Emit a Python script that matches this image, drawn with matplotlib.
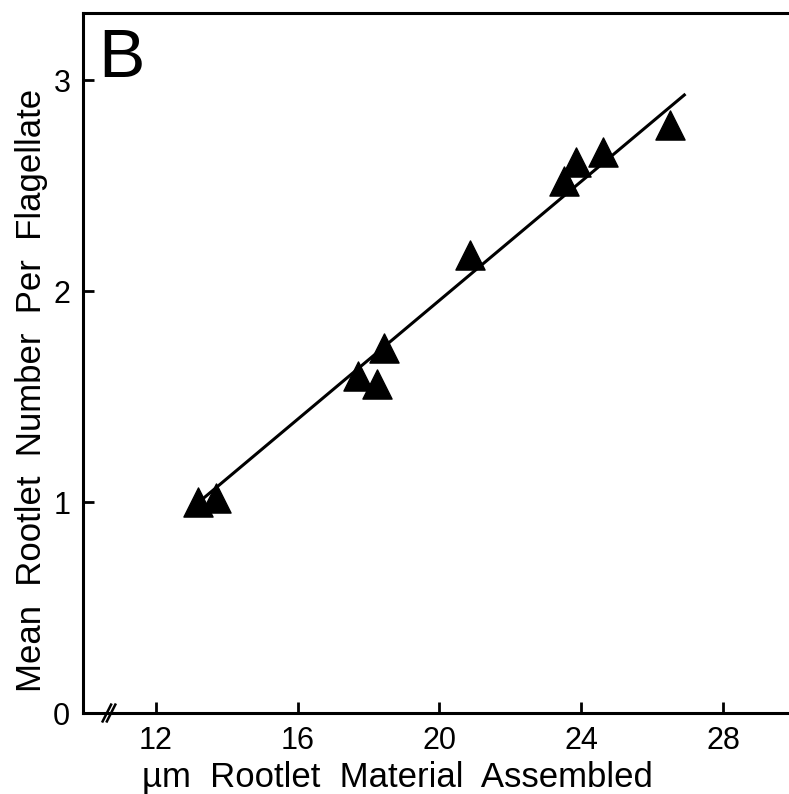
import matplotlib.pyplot as plt

# values
rootlet_um = [13.2, 13.7, 17.7, 18.25, 18.45, 20.85, 23.5, 23.85, 24.6, 26.5]
rootlet_num = [1.00, 1.02, 1.60, 1.56, 1.73, 2.17, 2.52, 2.61, 2.66, 2.79]
fit_x = [13.15, 26.9]
fit_y = [0.99, 2.93]
x_ticks = [12, 16, 20, 24, 28]
y_ticks = [0, 1, 2, 3]

plt.rcParams["font.family"] = ["Liberation Sans", "DejaVu Sans"]

fig = plt.figure(figsize=(7.89, 7.94), dpi=100)
ax = fig.add_axes([0.105, 0.102, 0.895, 0.882])

ax.plot(fit_x, fit_y, color="black", linewidth=2.2, zorder=2)
ax.scatter(rootlet_um, rootlet_num, marker="^", s=440, color="black", zorder=3)

ax.set_xlim(9.95, 29.85)
ax.set_ylim(0, 3.32)
ax.set_xticks(x_ticks)
ax.set_yticks(y_ticks)
ax.tick_params(direction="in", length=8, width=2, labelsize=22, pad=9)

for side in ["left", "bottom", "top"]:
    ax.spines[side].set_linewidth(2.2)
ax.spines["right"].set_visible(False)

# axis break on x
for dx in (0, 0.006):
    ax.plot([0.028 + dx, 0.040 + dx], [-0.012, 0.012], transform=ax.transAxes,
            color="black", linewidth=1.8, clip_on=False)

ax.text(0.022, 0.98, "B", transform=ax.transAxes, fontsize=50, va="top", ha="left")

ax.set_xlabel("\u00b5m  Rootlet  Material  Assembled", fontsize=25)
ax.set_ylabel("Mean  Rootlet  Number  Per  Flagellate", fontsize=25)
ax.xaxis.set_label_coords(0.446, -0.068)
ax.yaxis.set_label_coords(-0.05, 0.461)

fig.savefig("out.png", dpi=100)
